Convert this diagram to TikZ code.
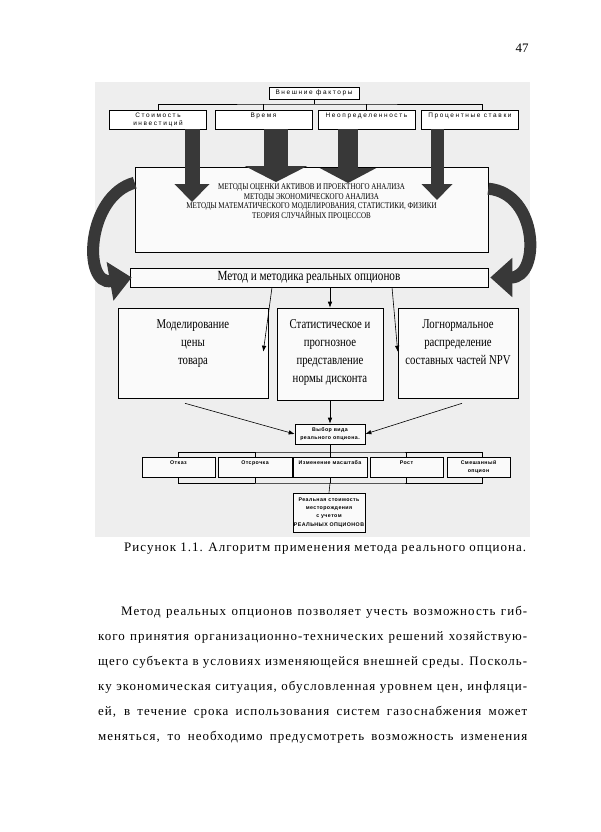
\documentclass[tikz,border=0pt]{standalone}
\usepackage{fontspec}
\setmainfont{Liberation Serif}
\newfontfamily\condserif[FakeStretch=0.8]{Liberation Serif}
\newfontfamily\widesans[LetterSpace=25]{Liberation Sans}
\newfontfamily\tinysans[LetterSpace=8]{Liberation Sans}
\newfontfamily\bodyfont[LetterSpace=8]{Liberation Serif}
\usetikzlibrary{positioning, arrows.meta}

\begin{document}
\begin{tikzpicture}[
	x=1bp, y=-1bp,
	box/.style={draw, rectangle, fill=gray!4, line width=0.6bp, inner sep=0pt, align=center},
	factor/.style={box, fill=white, minimum width=97bp, minimum height=19bp, font=\widesans\fontsize{6.5}{8}\selectfont},
	optbox/.style={box, minimum height=20bp, font=\tinysans\bfseries\fontsize{5.3}{8}\selectfont},
	fatarrow/.style={line width=#1, black!78},
	curvearrow/.style={line width=12bp, black!78, -{Triangle[length=22bp, width=38bp]}},
	arr/.style={-{Latex[length=6bp, width=4.5bp]}, line width=0.6bp},
	line/.style={line width=0.6bp},
	bodyline/.style={anchor=base west, inner sep=0pt, font=\bodyfont\fontsize{13}{16}\selectfont}
	]

	\useasboundingbox (0,0) rectangle (601,832);
	\fill[white] (0,0) rectangle (601,832);
	\fill[gray!13] (95,82) rectangle (530,537);

	% external factors
	\node[box, fill=white, minimum width=90bp, minimum height=12bp, font=\widesans\fontsize{6.5}{8}\selectfont] (ext) at (314,93) {Внешние факторы};
	\node[factor] (f1) at (158,119.5) {Стоимость\\инвестиций};
	\node[factor] (f2) at (263.5,119.5) {Время\\~};
	\node[factor] (f3) at (366.5,119.5) {Неопределенность\\~};
	\node[factor] (f4) at (470,119.5) {Процентные ставки\\~};

	\coordinate (bus0) at (314,104);
	\draw[line] (ext.south) -- (bus0);
	\draw[line] (f1.north) |- (bus0) -| ([xshift=12bp]f4.north);
	\draw[line] (f2.north) -- (f2.north |- bus0);
	\draw[line] (f3.north) -- (f3.north |- bus0);

	% methods
	\node[box, minimum width=353bp, minimum height=85bp] (meth) at (311.5,209.5) {};
	\node[box, minimum width=358bp, minimum height=19bp, font=\condserif\fontsize{14}{16}\selectfont] (opt) at (309,277.5) {Метод и методика реальных опционов};

	\coordinate (tip1) at (192,202);
	\coordinate (tip2) at (276,182);
	\coordinate (tip3) at (348,183);
	\coordinate (tip4) at (437,200);
	\draw[fatarrow=15bp, -{Triangle[length=18bp, width=34bp]}] (f1.south -| tip1) -- (tip1);
	\draw[fatarrow=24bp, -{Triangle[length=16bp, width=62bp]}] (f2.south -| tip2) -- (tip2);
	\draw[fatarrow=20bp, -{Triangle[length=15bp, width=56bp]}] (f3.south -| tip3) -- (tip3);
	\draw[fatarrow=13bp, -{Triangle[length=16bp, width=30bp]}] (f4.south -| tip4) -- (tip4);

	\node[align=center, inner sep=0pt, font=\condserif\fontsize{8.8}{9.7}\selectfont] (methtxt) at (311.5,202) {МЕТОДЫ ОЦЕНКИ АКТИВОВ И ПРОЕКТНОГО АНАЛИЗА\\МЕТОДЫ ЭКОНОМИЧЕСКОГО АНАЛИЗА\\МЕТОДЫ МАТЕМАТИЧЕСКОГО МОДЕЛИРОВАНИЯ, СТАТИСТИКИ, ФИЗИКИ\\ТЕОРИЯ СЛУЧАЙНЫХ ПРОЦЕССОВ};

	\draw[curvearrow] ([yshift=-16bp]meth.north west) to[out=195, in=190, looseness=1.35] ([xshift=2bp]opt.west);
	\draw[curvearrow] ([yshift=-22bp]meth.north east) to[out=-5, in=0, looseness=1.45] ([xshift=2bp]opt.east);

	% three approaches
	\node[box, font=\condserif\fontsize{13.5}{18}\selectfont] (m1) at (193,353) {\parbox[c][90bp][t]{150bp}{\centering\vspace{12bp}Моделирование\\цены\\товара}};
	\node[box, font=\condserif\fontsize{13.5}{18}\selectfont] (m2) at (330,354) {\parbox[c][92bp][t]{106bp}{\centering\vspace{12bp}Статистическое и\\прогнозное\\представление\\нормы дисконта}};
	\node[box, font=\condserif\fontsize{13.5}{18}\selectfont] (m3) at (458,353) {\parbox[c][90bp][t]{120bp}{\centering\vspace{12bp}Логнормальное\\распределение\\составных частей NPV}};

	\draw[arr] ([xshift=-37bp]opt.south) -- ([xshift=-5bp, yshift=-44bp]m1.north east);
	\draw[arr] (opt.south -| m2.north) -- (m2.north);
	\draw[arr] ([xshift=83bp]opt.south) -- ([yshift=-44bp]m3.north west);

	% choice of option
	\node[optbox, minimum width=70bp] (choice) at (330,434) {Выбор вида\\реального опциона.};
	\draw[arr] ([xshift=-8bp, yshift=-5bp]m1.south) -- (choice.west);
	\draw[arr] (m2.south) -- (choice.north);
	\draw[arr] ([xshift=4bp, yshift=-5bp]m3.south) -- (choice.east);

	\node[optbox, minimum width=73bp] (o1) at (178.5,467) {Отказ\\~};
	\node[optbox, minimum width=74bp] (o2) at (255,467) {Отсрочка\\~};
	\node[optbox, minimum width=74bp] (o3) at (330,467) {Изменение масштаба\\~};
	\node[optbox, minimum width=73bp] (o4) at (406.5,467) {Рост\\~};
	\node[optbox, minimum width=63bp] (o5) at (478.5,467) {Смешанный\\опцион};

	\coordinate (bus1) at (330,452);
	\coordinate (bus2) at (330,483);
	\draw[line] (choice.south) -- (bus1);
	\draw[line] (o1.north) |- (bus1) -| ([xshift=4bp]o5.north);
	\draw[line] (o1.south) |- (bus2) -| ([xshift=4bp]o5.south);
	\foreach \o in {o2, o3, o4} {
		\draw[line] (\o.north) -- (\o.north |- bus1);
		\draw[line] (\o.south) -- (\o.south |- bus2);
	}

	\node[optbox, minimum width=72bp, minimum height=39bp, font=\tinysans\bfseries\fontsize{5.3}{8.3}\selectfont] (res) at (329,512.5) {Реальная стоимость\\месторождения\\с учетом\\РЕАЛЬНЫХ ОПЦИОНОВ};
	\draw[line] (bus2) -- (res.north);

	% page text
	\node[anchor=base, inner sep=0pt, font=\fontsize{13}{16}\selectfont] (pagenum) at (522,52) {47};
	\node[bodyline] (cap) at (124,551) {\makebox[402bp][s]{Рисунок 1.1. Алгоритм применения метода реального опциона.}};
	\node[bodyline] (p1) at (121,615) {\makebox[406bp][s]{Метод реальных опционов позволяет учесть возможность гиб-}};
	\node[bodyline] (p2) at (98,640) {\makebox[429bp][s]{кого принятия организационно-технических решений хозяйствую-}};
	\node[bodyline] (p3) at (98,665) {\makebox[429bp][s]{щего субъекта в условиях изменяющейся внешней среды. Посколь-}};
	\node[bodyline] (p4) at (98,690) {\makebox[429bp][s]{ку экономическая ситуация, обусловленная уровнем цен, инфляци-}};
	\node[bodyline] (p5) at (98,715) {\makebox[429bp][s]{ей, в течение срока использования систем газоснабжения может}};
	\node[bodyline] (p6) at (98,740) {\makebox[429bp][s]{меняться, то необходимо предусмотреть возможность изменения}};

\end{tikzpicture}
\end{document}
